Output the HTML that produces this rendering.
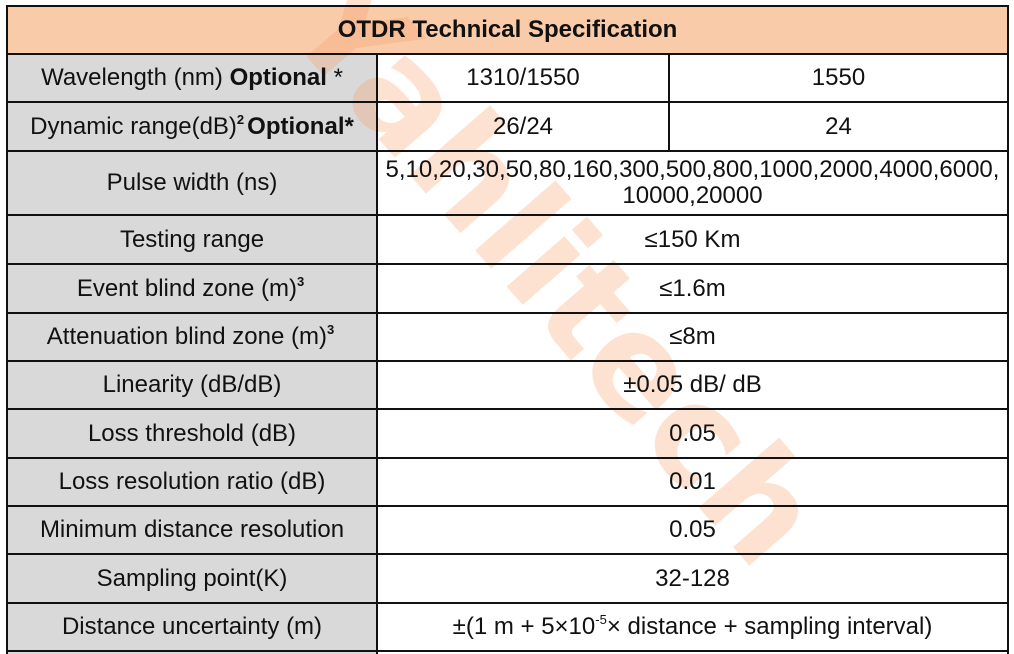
<!DOCTYPE html>
<html><head><style>
html,body{margin:0;width:1014px;height:654px;overflow:hidden}
body{background:#fff;position:relative;font-family:"Liberation Sans",sans-serif;color:#111}
.c{position:absolute;display:flex;align-items:center;justify-content:center;text-align:center;font-size:24px;line-height:26px;box-sizing:border-box}
.g{background:#d9d9d9}
.h{background:#f9cba9;font-weight:bold}
.hl{position:absolute;background:#111;height:2px}
.vl{position:absolute;background:#111;width:2px}
sup{font-size:13px;font-weight:bold;position:relative;top:-10px;vertical-align:baseline;line-height:0;margin-right:3px}
</style></head><body>
<div class="c h" style="left:7px;top:6px;width:1001px;height:48px"></div>
<div class="c g" style="left:7px;top:54px;width:370px;height:600px"></div>
<svg style="position:absolute;left:0;top:0" width="1014" height="654"><text x="0" y="0" transform="translate(282,28) rotate(49)" font-family="DejaVu Sans" font-weight="bold" font-size="140" fill="#f7a067" fill-opacity="0.3">Yahlitech</text></svg>
<div class="c" style="left:7px;top:6px;width:1001px;height:48px;font-weight:bold"><span>OTDR Technical Specification</span></div>
<div class="c" style="left:7px;top:54px;width:370px;height:48px"><span>Wavelength (nm) <b>Optional</b> *</span></div>
<div class="c" style="left:7px;top:102px;width:370px;height:49px"><span>Dynamic range(dB)<sup>2</sup><b>Optional*</b></span></div>
<div class="c" style="left:7px;top:151px;width:370px;height:64px"><span>Pulse width (ns)</span></div>
<div class="c" style="left:7px;top:215px;width:370px;height:49px"><span>Testing range</span></div>
<div class="c" style="left:7px;top:264px;width:370px;height:49px"><span>Event blind zone (m)<sup>3</sup></span></div>
<div class="c" style="left:7px;top:313px;width:370px;height:48px"><span>Attenuation blind zone (m)<sup>3</sup></span></div>
<div class="c" style="left:7px;top:361px;width:370px;height:48px"><span>Linearity (dB/dB)</span></div>
<div class="c" style="left:7px;top:409px;width:370px;height:49px"><span>Loss threshold (dB)</span></div>
<div class="c" style="left:7px;top:458px;width:370px;height:48px"><span>Loss resolution ratio (dB)</span></div>
<div class="c" style="left:7px;top:506px;width:370px;height:48px"><span>Minimum distance resolution</span></div>
<div class="c" style="left:7px;top:554px;width:370px;height:49px"><span>Sampling point(K)</span></div>
<div class="c" style="left:7px;top:603px;width:370px;height:48px"><span>Distance uncertainty (m)</span></div>
<div class="c" style="left:377px;top:54px;width:292px;height:48px"><span>1310/1550</span></div>
<div class="c" style="left:669px;top:54px;width:339px;height:48px"><span>1550</span></div>
<div class="c" style="left:377px;top:102px;width:292px;height:49px"><span>26/24</span></div>
<div class="c" style="left:669px;top:102px;width:339px;height:49px"><span>24</span></div>
<div class="c" style="left:377px;top:151px;width:631px;height:64px;white-space:nowrap"><span>5,10,20,30,50,80,160,300,500,800,1000,2000,4000,6000,<br>10000,20000</span></div>
<div class="c" style="left:377px;top:215px;width:631px;height:49px"><span>≤150 Km</span></div>
<div class="c" style="left:377px;top:264px;width:631px;height:49px"><span>≤1.6m</span></div>
<div class="c" style="left:377px;top:313px;width:631px;height:48px"><span>≤8m</span></div>
<div class="c" style="left:377px;top:361px;width:631px;height:48px"><span>±0.05 dB/ dB</span></div>
<div class="c" style="left:377px;top:409px;width:631px;height:49px"><span>0.05</span></div>
<div class="c" style="left:377px;top:458px;width:631px;height:48px"><span>0.01</span></div>
<div class="c" style="left:377px;top:506px;width:631px;height:48px"><span>0.05</span></div>
<div class="c" style="left:377px;top:554px;width:631px;height:49px"><span>32-128</span></div>
<div class="c" style="left:377px;top:603px;width:631px;height:48px"><span>±(1 m + 5×10<sup style="font-weight:normal;margin-right:0">-5</sup>× distance + sampling interval)</span></div>
<div class="hl" style="left:6px;width:1003px;top:5px"></div>
<div class="hl" style="left:6px;width:1003px;top:53px"></div>
<div class="hl" style="left:6px;width:1003px;top:101px"></div>
<div class="hl" style="left:6px;width:1003px;top:150px"></div>
<div class="hl" style="left:6px;width:1003px;top:214px"></div>
<div class="hl" style="left:6px;width:1003px;top:263px"></div>
<div class="hl" style="left:6px;width:1003px;top:312px"></div>
<div class="hl" style="left:6px;width:1003px;top:360px"></div>
<div class="hl" style="left:6px;width:1003px;top:408px"></div>
<div class="hl" style="left:6px;width:1003px;top:457px"></div>
<div class="hl" style="left:6px;width:1003px;top:505px"></div>
<div class="hl" style="left:6px;width:1003px;top:553px"></div>
<div class="hl" style="left:6px;width:1003px;top:602px"></div>
<div class="hl" style="left:6px;width:1003px;top:650px"></div>
<div class="vl" style="left:6px;top:5px;height:649px"></div>
<div class="vl" style="left:1007px;top:5px;height:649px"></div>
<div class="vl" style="left:376px;top:53px;height:601px"></div>
<div class="vl" style="left:668px;top:53px;height:98px"></div>
</body></html>
